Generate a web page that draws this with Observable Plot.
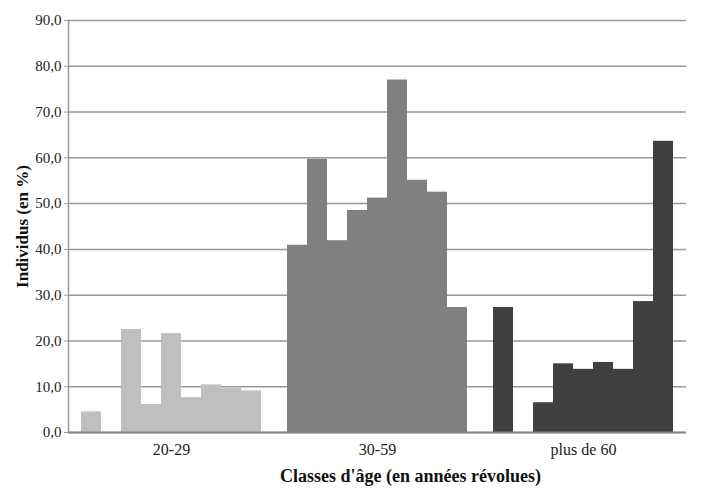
<!DOCTYPE html>
<html>
<head>
<meta charset="utf-8">
<script src="https://cdn.jsdelivr.net/npm/d3@7"></script>
<script src="https://cdn.jsdelivr.net/npm/@observablehq/plot@0.6"></script>
<style>
  html, body { margin: 0; padding: 0; background: white; }
</style>
</head>
<body>
<div id="chart"></div>
<script>
const groups = ["20-29", "30-59", "plus de 60"];
const values2029 = [4.5, 0, 22.5, 6.1, 21.6, 7.6, 10.4, 9.6, 9.1];
const values3059 = [40.9, 59.7, 41.9, 48.5, 51.2, 77.0, 55.1, 52.5, 27.3];
const values60 = [27.3, 0, 6.5, 15.0, 13.8, 15.3, 13.8, 28.6, 63.6];
const groupColors = ["#bfbfbf", "#808080", "#404040"];
const yTicks = [0, 10, 20, 30, 40, 50, 60, 70, 80, 90];
const xTitle = "Classes d'âge (en années révolues)";
const yTitle = "Individus (en %)";

const series = [values2029, values3059, values60];
const data = groups.flatMap((g, gi) => series[gi].map((v, i) => ({group: g, i, value: v})));
const fmt = d => d.toFixed(1).replace(".", ",");
const serif = "Liberation Serif";

const chart = Plot.plot({
  width: 701,
  height: 488,
  marginLeft: 68,
  marginRight: 15,
  marginTop: 20,
  marginBottom: 56,
  style: {fontFamily: serif, fontSize: "14px", color: "#222", background: "white"},
  fx: {domain: groups, padding: 0, label: null},
  x: {domain: d3.range(9), paddingInner: 0, paddingOuter: 0.65, axis: null},
  y: {domain: [0, 90], label: null},
  color: {domain: groups, range: groupColors},
  marks: [
    Plot.gridY(yTicks, {stroke: "#999", strokeOpacity: 1, strokeWidth: 1.5}),
    Plot.barY(data, {fx: "group", x: "i", y: "value", fill: "group"}),
    Plot.ruleY([0], {stroke: "#888", strokeWidth: 2}),
    Plot.frame({anchor: "left", facet: "super", stroke: "#999", strokeWidth: 1.5}),
    Plot.axisY(yTicks, {tickSize: 4, tickPadding: 3, tickFormat: fmt, label: null, stroke: "#999", fontSize: 15, fontFamily: serif}),
    Plot.axisFx({anchor: "bottom", label: null, tickSize: 0, tickPadding: 11, fontSize: 16, fontFamily: serif}),
    Plot.text([xTitle], {facet: "super", frameAnchor: "bottom", dy: 44, dx: 33, lineAnchor: "middle", textAnchor: "middle", fontWeight: "bold", fontSize: 18, fill: "#111", fontFamily: serif}),
    Plot.text([yTitle], {facet: "super", frameAnchor: "left", dx: -46, rotate: -90, lineAnchor: "middle", textAnchor: "middle", fontWeight: "bold", fontSize: 17, fill: "#111", fontFamily: serif})
  ]
});
document.getElementById("chart").append(chart);
</script>
</body>
</html>
